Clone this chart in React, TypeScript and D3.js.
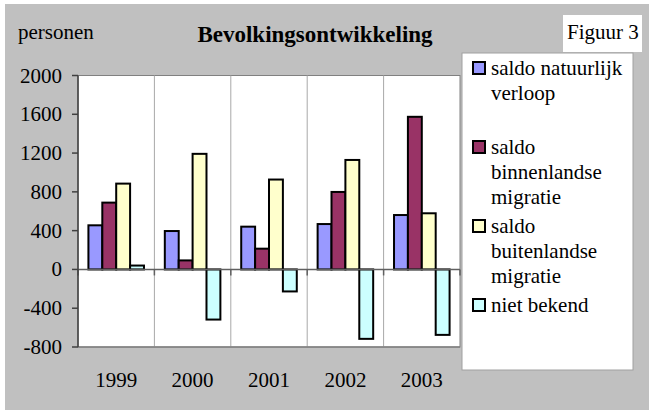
import React from 'react';
import * as d3 from 'd3';

const years = ['1999', '2000', '2001', '2002', '2003'];
const seriesNames = ['natuurlijk', 'binnenlands', 'buitenlands', 'onbekend'];
const natuurlijk = [455, 396, 441, 468, 561];
const binnenlands = [689, 93, 214, 799, 1574];
const buitenlands = [885, 1192, 927, 1129, 579];
const onbekend = [40, -517, -227, -716, -675];
const seriesValues = [natuurlijk, binnenlands, buitenlands, onbekend];
const seriesColors = ['#9999ff', '#993366', '#ffffcc', '#ccffff'];
const legendLines = [
    ['saldo natuurlijk', 'verloop'],
    ['saldo', 'binnenlandse', 'migratie'],
    ['saldo', 'buitenlandse', 'migratie'],
    ['niet bekend'],
];
const yTicks = [2000, 1600, 1200, 800, 400, 0, -400, -800];

const font = 'Liberation Serif';

const App = () => {
    const width = 649;
    const height = 410;
    const plot = { left: 78, right: 460, top: 75.5, bottom: 347 };

    const x = d3.scaleBand().domain(years).range([plot.left, plot.right]).paddingInner(0).paddingOuter(0);
    const xs = d3.scaleBand().domain(seriesNames).range([0, x.bandwidth()]).paddingInner(0).paddingOuter(0.75);
    const y = d3.scaleLinear().domain([-800, 2000]).range([plot.bottom, plot.top]);

    const legend = { x: 462, y: 53, w: 171, h: 317 };
    const textStyle = { fontFamily: font, fontSize: '21px' };

    const legendText = legendLines.flatMap((lines, i) =>
        lines.map((ln, j) => ({ key: `${i}-${j}`, ln, y: 62 + i * 79 + 13 + j * 25 }))
    );

    return (
        <svg width={width} height={height} style={{ position: 'absolute', left: 0, top: 0 }}>
            <rect x={5} y={4} width={width - 5} height={height - 4} fill="#c0c0c0" />

            {/* plot area */}
            <rect x={plot.left} y={plot.top} width={plot.right - plot.left} height={plot.bottom - plot.top} fill="#ffffff" stroke="#808080" strokeWidth={1} />
            {years.slice(1).map(yr => (
                <line key={'g' + yr} x1={x(yr)} x2={x(yr)} y1={plot.top} y2={plot.bottom} stroke="#a8a8a8" strokeWidth={1} />
            ))}

            {/* bars */}
            {seriesValues.flatMap((vals, si) => vals.map((v, i) => (
                <rect key={`b${si}-${i}`}
                    x={(x(years[i]) || 0) + (xs(seriesNames[si]) || 0)}
                    y={y(Math.max(0, v))}
                    width={xs.bandwidth()}
                    height={Math.abs(y(v) - y(0))}
                    fill={seriesColors[si]} stroke="#000" strokeWidth={2} />
            )))}

            {/* zero axis */}
            <line x1={plot.left} x2={plot.right} y1={y(0)} y2={y(0)} stroke="#606060" strokeWidth={1.5} />
            {[...years.map(yr => x(yr) || 0), plot.right].map((xv, i) => (
                <line key={'xt' + i} x1={xv} x2={xv} y1={y(0)} y2={y(0) + 6} stroke="#606060" strokeWidth={1.5} />
            ))}
            <line x1={plot.left} x2={plot.right} y1={plot.bottom} y2={plot.bottom} stroke="#808080" strokeWidth={1.5} />

            {/* y axis */}
            <line x1={plot.left} x2={plot.left} y1={plot.top} y2={plot.bottom} stroke="#404040" strokeWidth={1.5} />
            {yTicks.map(t => (
                <line key={'yt' + t} x1={plot.left - 6} x2={plot.left} y1={y(t)} y2={y(t)} stroke="#404040" strokeWidth={1.5} />
            ))}
            {yTicks.map(t => (
                <text key={'yl' + t} x={62} y={y(t) + 7} style={textStyle} textAnchor="end" fill="#000">{t}</text>
            ))}

            {/* x labels */}
            {years.map(yr => (
                <text key={'xl' + yr} x={(x(yr) || 0) + x.bandwidth() / 2} y={387} style={textStyle} textAnchor="middle" fill="#000">{yr}</text>
            ))}

            {/* titles */}
            <text x={18} y={39} style={textStyle} fill="#000">personen</text>
            <text x={315} y={42} style={{ fontFamily: font, fontSize: '23px', fontWeight: 'bold' }} textAnchor="middle" fill="#000">Bevolkingsontwikkeling</text>
            <rect x={563} y={15} width={79} height={37} fill="#ffffff" />
            <text x={567} y={39} style={textStyle} fill="#000">Figuur 3</text>

            {/* legend */}
            <rect x={legend.x} y={legend.y} width={legend.w} height={legend.h} fill="#ffffff" stroke="#a0a0a0" strokeWidth={1} />
            {legendLines.map((_, i) => (
                <rect key={'ls' + i} x={473} y={62 + i * 79} width={12} height={12} fill={seriesColors[i]} stroke="#000" strokeWidth={2} />
            ))}
            {legendText.map(d => (
                <text key={'lt' + d.key} x={491} y={d.y} style={textStyle} fill="#000">{d.ln}</text>
            ))}
        </svg>
    );
};

export default App;
